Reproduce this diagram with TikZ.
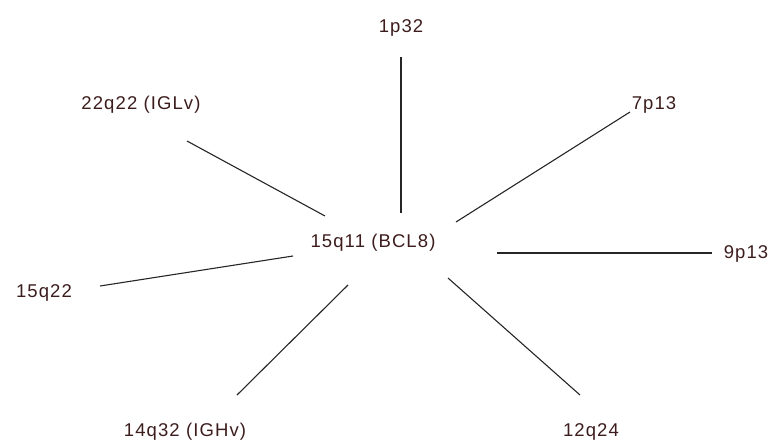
\documentclass[tikz,border=0pt]{standalone}
\usepackage{fontspec}
\setmainfont{Liberation Sans}[LetterSpace=6]
\definecolor{lbl}{RGB}{60,28,28}
\begin{document}
\begin{tikzpicture}[x=1pt,y=-1pt,
  lab/.style={text=lbl,font=\fontsize{18.5}{20}\selectfont,inner sep=0pt},
  conn/.style={draw=black!85,line width=1.1pt}]
\useasboundingbox (0,0) rectangle (780,444);
\node[lab] (c) at (373,243) {15q11 (BCL8)};
\node[lab] (n1) at (401,28) {1p32};
\node[lab] (n2) at (141,105) {22q22 (IGLv)};
\node[lab] (n3) at (654,105) {7p13};
\node[lab] (n4) at (746,254) {9p13};
\node[lab] (n5) at (44,293) {15q22};
\node[lab] (n6) at (185,432) {14q32 (IGHv)};
\node[lab] (n7) at (591,432) {12q24};
\coordinate (a1) at (401,213); \coordinate (b1) at (401,57);
\coordinate (a2) at (325,216); \coordinate (b2) at (187,141);
\coordinate (a3) at (456,222); \coordinate (b3) at (630,112);
\coordinate (a4) at (497,253); \coordinate (b4) at (712,253);
\coordinate (a5) at (293,256); \coordinate (b5) at (100,286);
\coordinate (a6) at (348,285); \coordinate (b6) at (237,395);
\coordinate (a7) at (448,278); \coordinate (b7) at (580,395);
\foreach \i in {1,...,7} {\draw[conn] (a\i) -- (b\i);}
\end{tikzpicture}
\end{document}
